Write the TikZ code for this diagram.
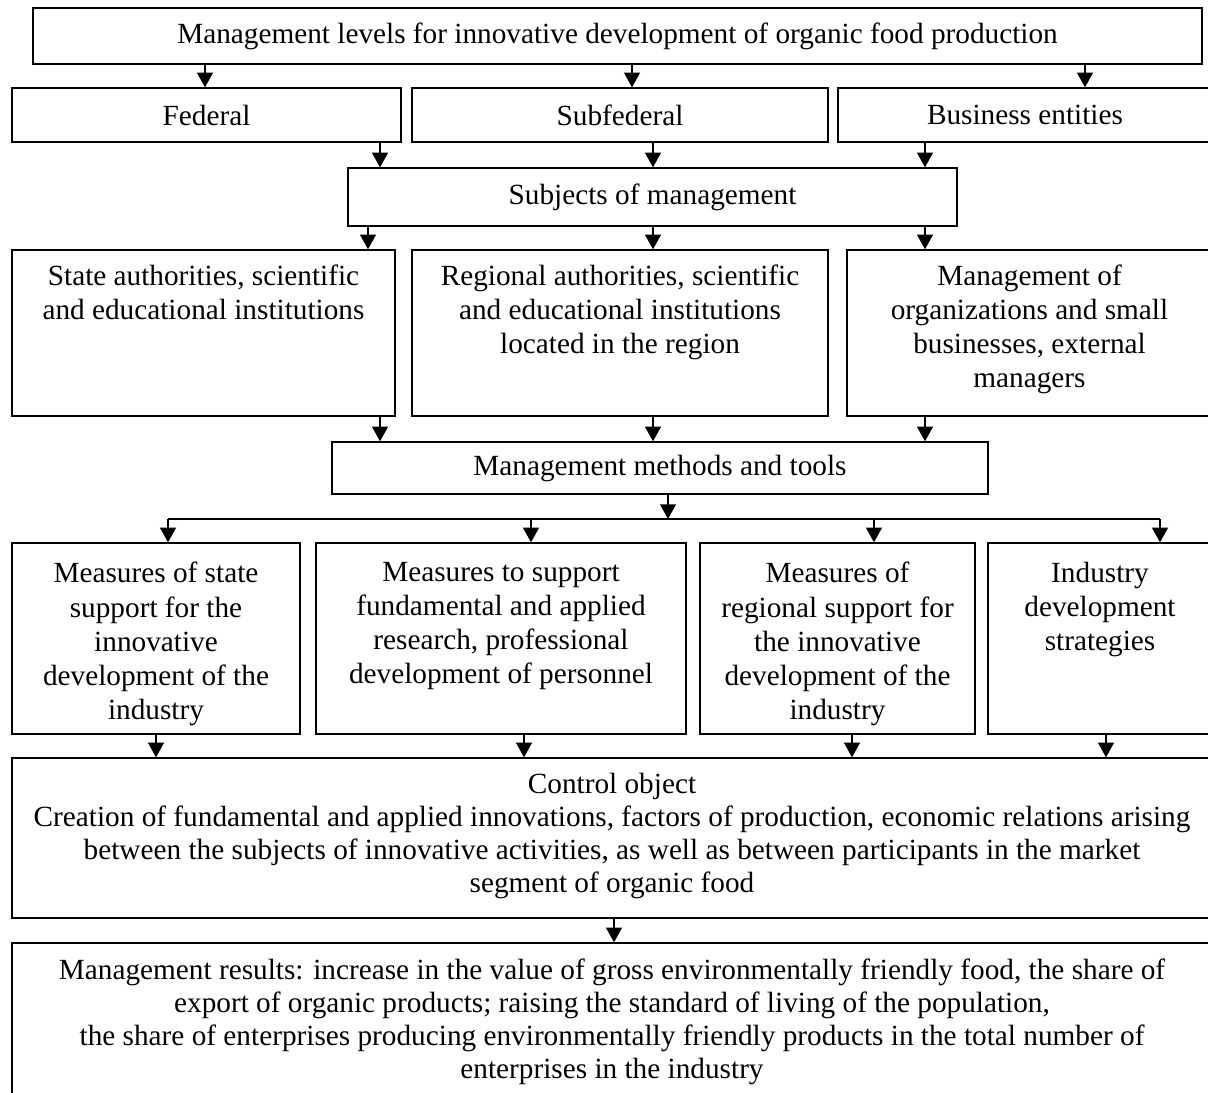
\documentclass[tikz,border=0pt]{standalone}
\usepackage{fontspec}
\setmainfont{Liberation Serif}
\usetikzlibrary{positioning,fit,arrows.meta}

\begin{document}
\begin{tikzpicture}[x=0.41pt, y=-0.41pt,
  every node/.style={font=\fontsize{12}{14}\selectfont},
  blk/.style ={draw, line width=0.55pt, inner sep=0pt},
  txt/.style ={align=center, inner sep=0pt},
  tight/.style={font=\fontsize{12}{13.5}\selectfont},
  arr/.style ={-{Triangle[width=6.5pt,length=6pt]}, line width=0.55pt},
]
\useasboundingbox (0,0) rectangle (1208,1092);

% levels
\node[blk, fit={(33,8) (1202,64)}]    (levels) {};
\node[blk, fit={(12,88) (401,142)}]   (fed) {};
\node[blk, fit={(412,88) (828,142)}]  (sub) {};
\node[blk, fit={(838,88) (1212,142)}] (biz) {};
\node[txt] (levels-t) at (levels) {Management levels for innovative development of organic food production};
\node[txt] (fed-t) at (fed) {Federal};
\node[txt] (sub-t) at (sub) {Subfederal};
\node[txt] (biz-t) at (biz) {Business entities};

% subjects
\node[blk, fit={(348,168) (957,226)}] (subj) {};
\node[txt] (subj-t) at (subj) {Subjects of management};
\node[blk, fit={(12,250) (395,416)}]   (state) {};
\node[blk, fit={(412,250) (828,416)}]  (reg) {};
\node[blk, fit={(847,250) (1212,416)}] (org) {};
\node[txt, below=6pt of state.north] (state-t) {State authorities, scientific\\and educational institutions};
\node[txt, below=6pt of reg.north]   (reg-t) {Regional authorities, scientific\\and educational institutions\\located in the region};
\node[txt, below=6pt of org.north]   (org-t) {Management of\\organizations and small\\businesses, external\\managers};

% methods
\node[blk, fit={(332,442) (988,494)}] (meth) {};
\node[txt] (meth-t) at (meth) {Management methods and tools};
\coordinate (bus) at (668,519);
\node[blk, fit={(12,543) (300,734)}]   (m1) {};
\node[blk, fit={(316,543) (686,734)}]  (m2) {};
\node[blk, fit={(700,543) (975,734)}]  (m3) {};
\node[blk, fit={(988,543) (1212,734)}] (m4) {};
\node[txt, below=8pt of m1.north] (m1-t) {Measures of state\\support for the\\innovative\\development of the\\industry};
\node[txt, below=8pt of m2.north] (m2-t) {Measures to support\\fundamental and applied\\research, professional\\development of personnel};
\node[txt, below=8pt of m3.north] (m3-t) {Measures of\\regional support for\\the innovative\\development of the\\industry};
\node[txt, below=8pt of m4.north] (m4-t) {Industry\\development\\strategies};

% object and results
\node[blk, fit={(12,758) (1212,918)}]  (ctrl) {};
\node[blk, fit={(12,943) (1212,1100)}] (res) {};
\node[txt, tight, below=6.5pt of ctrl.north] (ctrl-t) {Control object\\Creation of fundamental and applied innovations, factors of production, economic relations arising\\between the subjects of innovative activities, as well as between participants in the market\\segment of organic food};
\node[txt, tight, below=6.5pt of res.north] (res-t) {Management results: increase in the value of gross environmentally friendly food, the share of\\export of organic products; raising the standard of living of the population,\\the share of enterprises producing environmentally friendly products in the total number of\\enterprises in the industry};

% arrows
\draw[arr] (levels.south -| 205,0) -- (fed.north -| 205,0);
\draw[arr] (levels.south -| 632,0) -- (sub.north -| 632,0);
\draw[arr] (levels.south -| 1085,0) -- (biz.north -| 1085,0);
\draw[arr] (fed.south -| 380,0) -- (subj.north -| 380,0);
\draw[arr] (sub.south -| 653,0) -- (subj.north -| 653,0);
\draw[arr] (biz.south -| 925,0) -- (subj.north -| 925,0);
\draw[arr] (subj.south -| 368,0) -- (state.north -| 368,0);
\draw[arr] (subj.south -| 653,0) -- (reg.north -| 653,0);
\draw[arr] (subj.south -| 925,0) -- (org.north -| 925,0);
\draw[arr] (state.south -| 380,0) -- (meth.north -| 380,0);
\draw[arr] (reg.south -| 653,0) -- (meth.north -| 653,0);
\draw[arr] (org.south -| 925,0) -- (meth.north -| 925,0);
\draw[arr] (meth.south -| bus) -- (bus);
\draw[line width=0.55pt] (bus -| 168,0) -- (bus -| 1160,0);
\draw[arr] (bus -| 168,0) -- (m1.north -| 168,0);
\draw[arr] (bus -| 531,0) -- (m2.north -| 531,0);
\draw[arr] (bus -| 874,0) -- (m3.north -| 874,0);
\draw[arr] (bus -| 1160,0) -- (m4.north -| 1160,0);
\draw[arr] (m1.south -| 156,0) -- (ctrl.north -| 156,0);
\draw[arr] (m2.south -| 524,0) -- (ctrl.north -| 524,0);
\draw[arr] (m3.south -| 852,0) -- (ctrl.north -| 852,0);
\draw[arr] (m4.south -| 1106,0) -- (ctrl.north -| 1106,0);
\draw[arr] (ctrl.south -| 614,0) -- (res.north -| 614,0);
\end{tikzpicture}
\end{document}
